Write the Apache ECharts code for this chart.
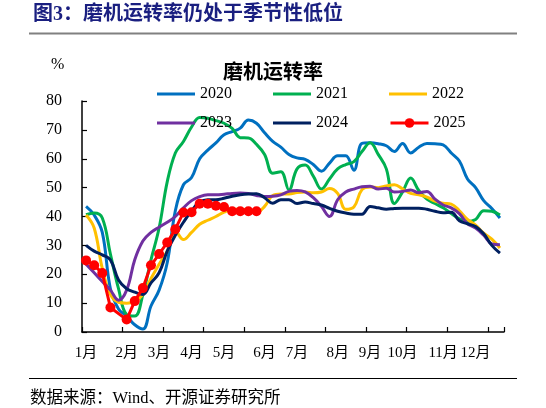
<!DOCTYPE html>
<html>
<head>
<meta charset="utf-8">
<script src="https://cdn.jsdelivr.net/npm/echarts@6/dist/echarts.min.js"></script>
<style>
html,body{margin:0;padding:0;background:#fff;}
#chart{width:546px;height:408px;}
</style>
</head>
<body>
<div id="chart"></div>
<script>
// Weekly categories (52 weeks)
const weeks = ['1','2','3','4','5','6','7','8','9','10','11','12','13','14','15','16','17','18','19','20','21','22','23','24','25','26','27','28','29','30','31','32','33','34','35','36','37','38','39','40','41','42','43','44','45','46','47','48','49','50','51','52'];
// Month tick labels and the week index where each is shown
const monthLabels = ['1月','2月','3月','4月','5月','6月','7月','8月','9月','10月','11月','12月'];
const monthWeekIdx = [0,5,9,13,17,22,26,31,35,39,44,48];
const yTicks = [0,10,20,30,40,50,60,70,80];

const y2020 = [43.5,40.5,34.5,15,8,5.5,2.5,1,9,14.5,24,42,51,53.5,60,63,65.5,68.3,69.4,70.6,73.4,72.3,69,66,64,61.5,60.3,59.8,58,55.7,58.5,61,61,56,65.3,65.5,65.2,64.5,62.5,65.3,62,64,65.3,65.2,64.8,62,59.2,53,50,45.5,42.8,39.5];
const y2021 = [40.6,41.2,39.5,27,15,6,5.5,13,25,36,52,62,66,71,74.3,74,73.2,72.3,70.5,67.3,67.2,65,61.5,55,55.5,49.2,56.5,57.8,54,49.5,53,56.5,58,59,62.5,65.5,61.5,56.5,44.5,48.5,53.3,49,46,44.5,43,41,39.2,38.3,39,42,41.8,40.5];
const y2022 = [40.5,36,22,13,10.3,10,10.5,13,18.5,23.5,28,35,32,34.5,37.3,38.7,40,41.5,42.5,42.5,42.3,41.5,43.5,47.3,47.8,47.8,48.3,48.5,48.2,48.5,49.7,48,42.5,43.3,49.3,50.2,50,50.6,51,49.6,48,47.5,46.7,45.3,44.6,44.3,42,39,37,34.2,32.2,29.1];
const y2023 = [23.5,20.5,17.5,14.5,11,14.5,25,31.5,34.5,36.3,38,40,43,45.5,46.9,47.5,47.5,47.7,48,48.1,48,47.3,46.9,47,47.5,48.7,49,48.5,46.5,43.5,40,45.8,48.5,49.5,50.3,50.5,49.5,49.8,48.5,48.7,49.2,48.2,48.7,46,44,43,41,37.5,36,33.5,30.5,30.2];
const y2024 = [30,28,26.7,25,18,15,13.8,13,17,20.5,28,33.5,38,42,45,45.8,45.8,46.3,47,47.5,47.8,47.9,46.5,44.6,45.8,45.8,44.5,45,44.5,44,42.8,41.8,41.2,40.8,40.8,43.5,43,42.5,42.8,42.9,42.9,42.9,42.5,41.8,41.3,41.5,38.5,37.5,36.5,34,30,27.3];
const y2025 = [24.8,23.1,20.4,8.5,null,4.3,10.7,15.2,23.1,27.0,31.0,35.6,41.4,41.5,44.4,44.4,43.7,43.3,41.8,41.8,41.8,41.8];

const seriesNames = ['2020','2021','2022','2023','2024','2025'];
const seriesColors = ['#0070C0','#00B050','#FFC000','#7030A0','#002060','#FF0000'];
const seriesData = [y2020,y2021,y2022,y2023,y2024,y2025];

const serif = "'Liberation Serif','Noto Sans CJK SC',serif";

const chart = echarts.init(document.getElementById('chart'));

const series = seriesData.map((d, i) => {
  const is25 = i === 5;
  return {
    name: seriesNames[i],
    type: 'line',
    data: d,
    smooth: is25 ? false : 0.4,
    connectNulls: true,
    symbol: is25 ? 'circle' : 'none',
    symbolSize: 10,
    showSymbol: is25,
    showAllSymbol: true,
    lineStyle: {width: 3, color: seriesColors[i]},
    itemStyle: {color: seriesColors[i]},
    emphasis: {disabled: true},
    z: 2 + i
  };
});

const legendText = {fontFamily: serif, fontSize: 16, color: '#000'};
const plainLegend = {
  orient: 'horizontal', icon: 'rect', itemWidth: 38, itemHeight: 3, itemGap: 41,
  padding: 0, textStyle: legendText, selectedMode: false
};

chart.setOption({
  animation: false,
  backgroundColor: '#fff',
  title: [
    {text: '图3：磨机运转率仍处于季节性低位', left: 33, top: 5, padding: 0,
      textStyle: {fontFamily: serif, fontSize: 20, fontWeight: 'bold', color: '#1a1f80'}},
    {text: '磨机运转率', left: 'center', top: 61, padding: 0,
      textStyle: {fontFamily: "'Noto Sans CJK SC',sans-serif", fontSize: 20, fontWeight: 'bold', color: '#000'}},
    {text: '%', left: 51, top: 57, padding: 0,
      textStyle: {fontFamily: serif, fontSize: 16, fontWeight: 'normal', color: '#000'}},
    {text: '数据来源：Wind、开源证券研究所', left: 30, top: 390, padding: 0,
      textStyle: {fontFamily: serif, fontSize: 16.5, fontWeight: 'normal', color: '#000'}}
  ],
  graphic: [
    {type: 'line', shape: {x1: 29, y1: 33.5, x2: 517, y2: 33.5}, style: {stroke: '#808080', lineWidth: 2}},
    {type: 'line', shape: {x1: 29, y1: 378.5, x2: 517, y2: 378.5}, style: {stroke: '#000', lineWidth: 1.2}}
  ],
  legend: [
    Object.assign({}, plainLegend, {left: 157, top: 86, data: seriesNames.slice(0,3)}),
    Object.assign({}, plainLegend, {left: 157, top: 115, data: seriesNames.slice(3,5)}),
    {orient: 'horizontal', itemWidth: 38, itemHeight: 12, padding: 0, left: 389, top: 115,
      textStyle: legendText, selectedMode: false, lineStyle: {width: 3}, data: [seriesNames[5]]}
  ],
  grid: {left: 82, right: 42, top: 101, bottom: 76, containLabel: false},
  xAxis: {
    type: 'category',
    data: weeks,
    boundaryGap: true,
    axisLine: {show: true, lineStyle: {color: '#000', width: 1.5}},
    axisTick: {show: true, inside: true, length: 5, interval: 4, alignWithLabel: false, lineStyle: {color: '#000', width: 1.2}},
    axisLabel: {
      interval: (idx) => monthWeekIdx.indexOf(idx) >= 0,
      formatter: (v, idx) => {
        const k = monthWeekIdx.indexOf(idx);
        return k >= 0 ? monthLabels[k] : '';
      },
      margin: 14,
      hideOverlap: false,
      fontFamily: serif, fontSize: 15, color: '#000'
    },
    splitLine: {show: false}
  },
  yAxis: {
    type: 'value',
    min: yTicks[0],
    max: yTicks[yTicks.length - 1],
    interval: 10,
    axisLine: {show: true, lineStyle: {color: '#000', width: 1.5}},
    axisTick: {show: true, inside: true, length: 5, lineStyle: {color: '#000', width: 1.2}},
    axisLabel: {margin: 20, fontFamily: serif, fontSize: 16, color: '#000'},
    splitLine: {show: false}
  },
  series: series
});
</script>
</body>
</html>
